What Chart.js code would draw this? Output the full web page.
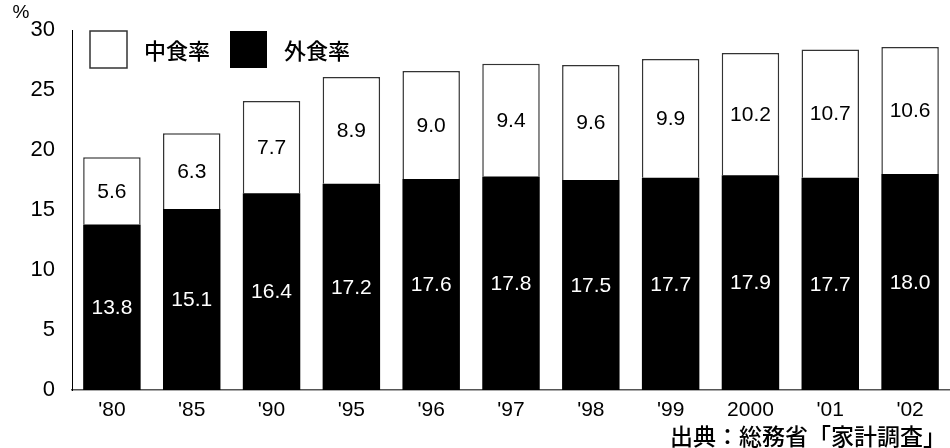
<!DOCTYPE html>
<html lang="ja">
<head>
<meta charset="utf-8">
<script src="https://cdn.jsdelivr.net/npm/chart.js@4"></script>
<style>
  html, body { margin: 0; padding: 0; background: #fff; }
  #wrap { width: 950px; height: 448px; position: relative; }
</style>
</head>
<body>
<div id="wrap"><canvas id="grafico"></canvas></div>
<script>
const years = ["'80", "'85", "'90", "'95", "'96", "'97", "'98", "'99", "2000", "'01", "'02"];
const gaishoku = [13.8, 15.1, 16.4, 17.2, 17.6, 17.8, 17.5, 17.7, 17.9, 17.7, 18.0];
const nakashoku = [5.6, 6.3, 7.7, 8.9, 9.0, 9.4, 9.6, 9.9, 10.2, 10.7, 10.6];
const yTicks = [0, 5, 10, 15, 20, 25, 30];
const source = '出典：総務省「家計調査」';

const latin = '"Liberation Sans", Arial, Helvetica, sans-serif';
const jp = '"Noto Sans CJK JP", "Noto Sans", sans-serif';

// valores dentro de cada segmento + leyenda + fuente
const extras = {
    id: 'extras',
    afterDatasetsDraw(chart) {
        const ctx = chart.ctx;
        ctx.save();
        ctx.textAlign = 'center';
        ctx.textBaseline = 'middle';
        ctx.font = '21px ' + latin;
        chart.data.datasets.forEach((ds, i) => {
            chart.getDatasetMeta(i).data.forEach((bar, j) => {
                const p = bar.getProps(['x', 'y', 'base'], true);
                ctx.fillStyle = ds.backgroundColor === '#000000' ? '#ffffff' : '#000000';
                ctx.fillText(ds.data[j].toFixed(1), p.x, (p.y + p.base) / 2 + 1);
            });
        });

        // leyenda
        const items = [chart.data.datasets[1], chart.data.datasets[0]];
        let x = 90;
        const top = 31, size = 37;
        ctx.textAlign = 'left';
        ctx.font = '500 22px ' + jp;
        items.forEach(ds => {
            ctx.fillStyle = ds.backgroundColor;
            ctx.fillRect(x, top, size, size);
            if (ds.backgroundColor !== '#000000') {
                ctx.strokeStyle = '#333';
                ctx.lineWidth = 1.5;
                ctx.strokeRect(x, top, size, size);
            }
            ctx.fillStyle = '#000';
            ctx.fillText(ds.label, x + size + 17, top + size / 2 + 1);
            x += size + 17 + ctx.measureText(ds.label).width + 20;
        });

        // % y fuente
        ctx.font = '19px ' + latin;
        ctx.textAlign = 'center';
        ctx.fillText('%', 21, 13);
        ctx.font = '500 23px ' + jp;
        ctx.textAlign = 'right';
        ctx.fillText(source, 946, 436);
        ctx.restore();
    }
};

new Chart(document.getElementById('grafico'), {
    type: 'bar',
    data: {
        labels: years,
        datasets: [{
            label: '外食率',
            data: gaishoku,
            backgroundColor: '#000000',
            borderWidth: 0,
            stack: 's'
        }, {
            label: '中食率',
            data: nakashoku,
            backgroundColor: '#ffffff',
            borderColor: '#333333',
            borderWidth: 1.5,
            stack: 's'
        }]
    },
    options: {
        responsive: true,
        maintainAspectRatio: false,
        animation: false,
        layout: { padding: { top: 30, left: 0, right: 0, bottom: 0 } },
        plugins: {
            legend: { display: false },
            tooltip: { enabled: false }
        },
        scales: {
            x: {
                stacked: true,
                categoryPercentage: 1,
                barPercentage: 0.73,
                grid: { display: false, drawTicks: false },
                border: { display: true, color: '#555', width: 1.5 },
                ticks: { color: '#000', font: { size: 21, family: latin }, padding: 8, maxRotation: 0, autoSkip: false },
                afterFit: s => { s.height = 58; }
            },
            y: {
                stacked: true,
                min: 0,
                max: 30,
                afterBuildTicks: s => { s.ticks = yTicks.map(v => ({ value: v })); },
                grid: { display: false, drawTicks: false },
                border: { display: true, color: '#000', width: 1 },
                ticks: { color: '#000', font: { size: 22, family: latin }, padding: 17 },
                afterFit: s => { s.width = 72; }
            }
        }
    },
    plugins: [extras]
});
</script>
</body>
</html>
